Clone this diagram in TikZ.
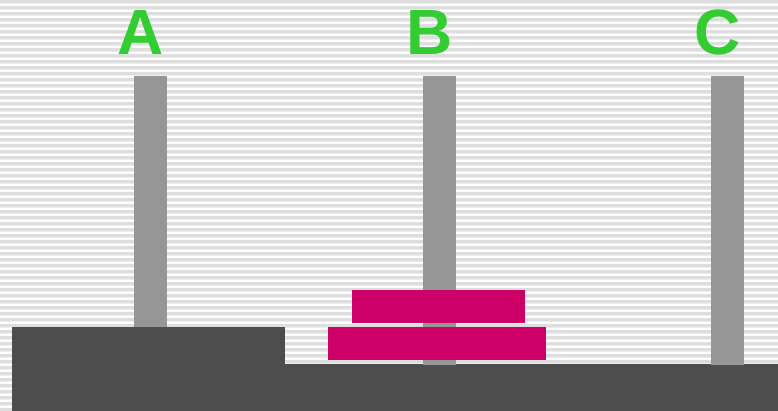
\documentclass[tikz,border=0pt]{standalone}
\usepackage{fontspec}
\setmainfont{Liberation Sans}
\definecolor{stripe}{HTML}{DEDEDE}
\definecolor{stripelt}{HTML}{EEEEEE}
\definecolor{peg}{HTML}{969696}
\definecolor{base}{HTML}{4D4D4D}
\definecolor{disk}{HTML}{CC0066}
\definecolor{lbl}{HTML}{33CC33}
\tikzset{
  pegbar/.style={fill=peg, draw=none},
  diskbar/.style={fill=disk, draw=none},
  basebar/.style={fill=base, draw=none},
  peglabel/.style={text=lbl, font=\fontsize{64}{64}\selectfont\bfseries, inner sep=0pt, anchor=base}
}
\begin{document}
\begin{tikzpicture}[x=1pt,y=-1pt]
\useasboundingbox (0,0) rectangle (778,411);
\fill[white] (0,0) rectangle (778,411);
\foreach \i in {0,...,68} {
  \fill[stripe] (0,{6*\i}) rectangle (778,{6*\i+3});
  \fill[stripelt] (0,{6*\i+3}) rectangle (778,{6*\i+4});
}
% peg A (behind its base block)
\fill[pegbar] (134,76) rectangle (167,330);
% base
\fill[basebar] (12,327) rectangle (285,411);
\fill[basebar] (285,364) rectangle (778,411);
% pegs B and C
\fill[pegbar] (423,76) rectangle (456,365);
\fill[pegbar] (711,76) rectangle (744,365);
% disks
\fill[diskbar] (352,290) rectangle (525,323);
\fill[diskbar] (328,327) rectangle (546,360);
% labels
\node[peglabel] (la) at (141,55) {A};
\node[peglabel] (lb) at (430,55) {B};
\node[peglabel] (lc) at (718,55) {C};
\end{tikzpicture}
\end{document}
